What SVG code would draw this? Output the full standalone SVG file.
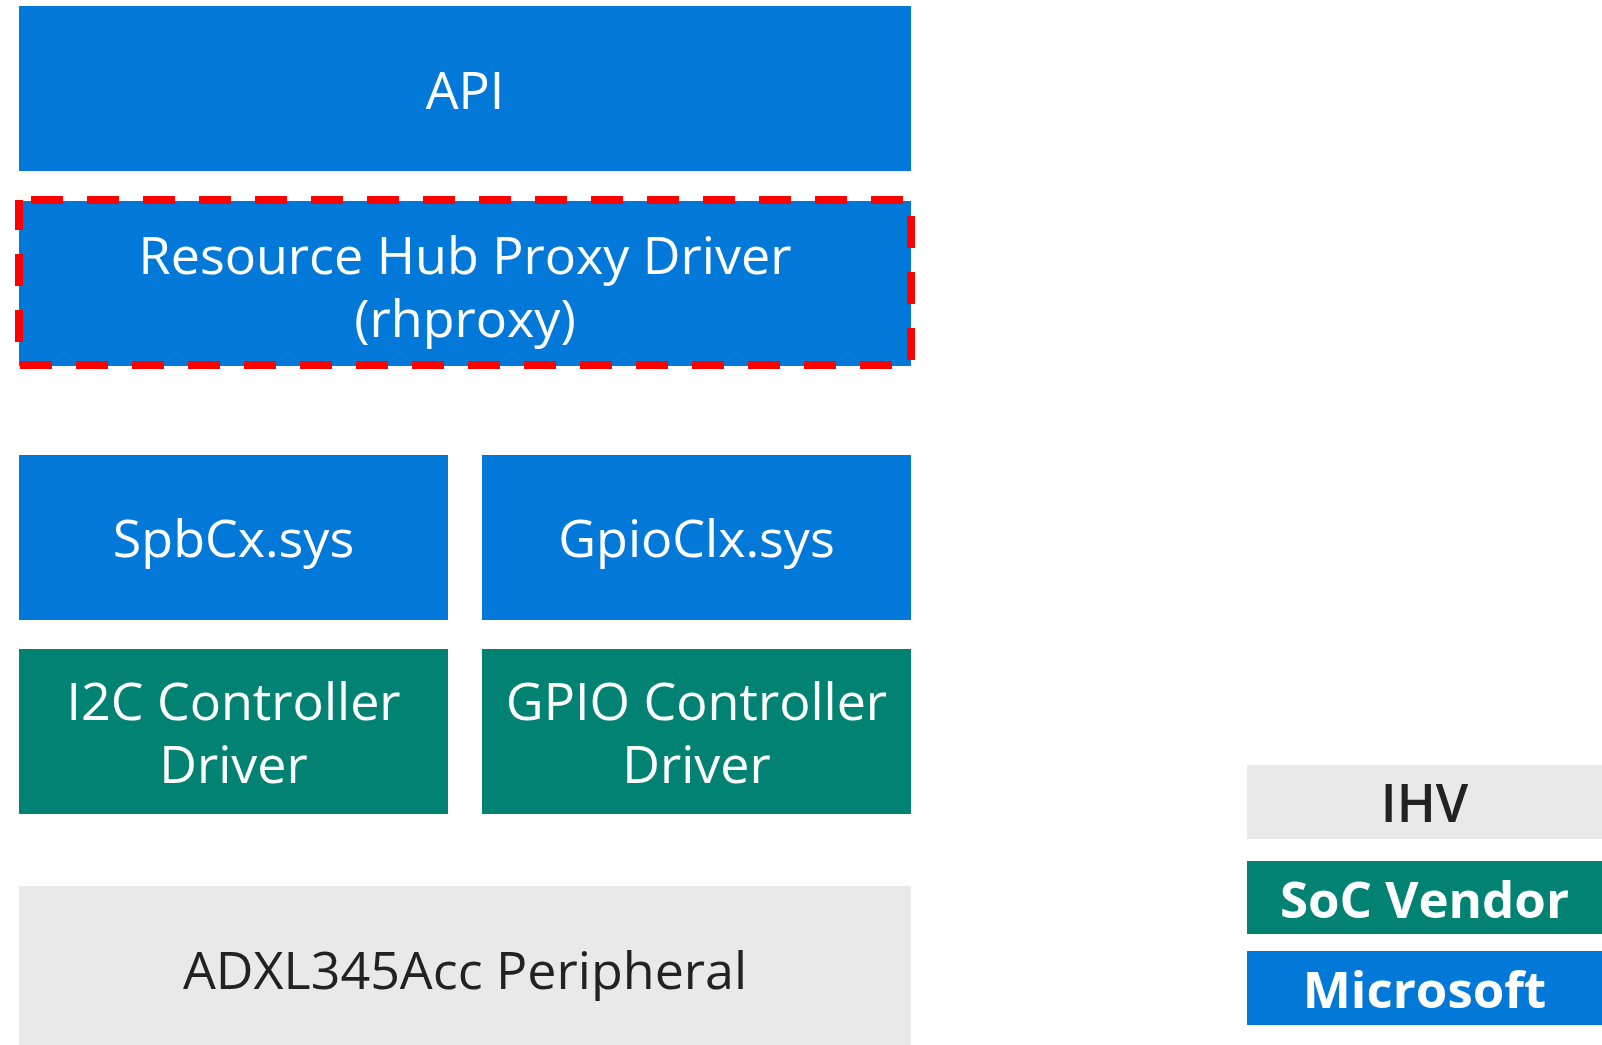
<svg xmlns="http://www.w3.org/2000/svg" width="1602" height="1045" viewBox="0 0 1602 1045">
<style>
.ms{fill:#0279D8}
.soc{fill:#018272}
.ihv{fill:#E9E9E9}
.t{font-family:"Open Sans","Noto Sans",sans-serif;font-size:52px;text-anchor:middle;fill:#FFFFFF}
.d{fill:#222222}
.b{font-weight:bold;font-size:51px}
.sb{font-weight:600}
.dash{fill:none;stroke:#FF0000;stroke-width:8;stroke-dasharray:32 24;stroke-dashoffset:44}
</style>
<rect width="1602" height="1045" fill="#FFFFFF"/>
<g id="api"><rect class="ms" x="19" y="6" width="892" height="165"/><text class="t" x="465" y="109">API</text></g>
<g id="rhproxy"><rect class="ms" x="19" y="201" width="892" height="165"/><rect class="dash" x="19" y="200" width="892" height="165"/><text class="t" x="465" y="274">Resource Hub Proxy Driver</text><text class="t" x="465" y="337">(rhproxy)</text></g>
<g id="spbcx"><rect class="ms" x="19" y="455" width="429" height="165"/><text class="t" x="233.5" y="557">SpbCx.sys</text></g>
<g id="gpioclx"><rect class="ms" x="482" y="455" width="429" height="165"/><text class="t" x="696.5" y="557">GpioClx.sys</text></g>
<g id="i2c"><rect class="soc" x="19" y="649" width="429" height="165"/><text class="t" x="233.5" y="720">I2C Controller</text><text class="t" x="233.5" y="783">Driver</text></g>
<g id="gpio"><rect class="soc" x="482" y="649" width="429" height="165"/><text class="t" x="696.5" y="720">GPIO Controller</text><text class="t" x="696.5" y="783">Driver</text></g>
<g id="adxl"><rect class="ihv" x="19" y="886" width="892" height="159"/><text class="t d" x="465" y="989">ADXL345Acc Peripheral</text></g>
<g id="legend-ihv"><rect class="ihv" x="1247" y="765" width="355" height="74"/><text class="t d sb" x="1424.5" y="822">IHV</text></g>
<g id="legend-soc"><rect class="soc" x="1247" y="861" width="355" height="73"/><text class="t b" x="1424.5" y="918">SoC Vendor</text></g>
<g id="legend-ms"><rect class="ms" x="1247" y="951" width="355" height="74"/><text class="t b" x="1424.5" y="1008">Microsoft</text></g>
<g id="connectors"></g>
</svg>
